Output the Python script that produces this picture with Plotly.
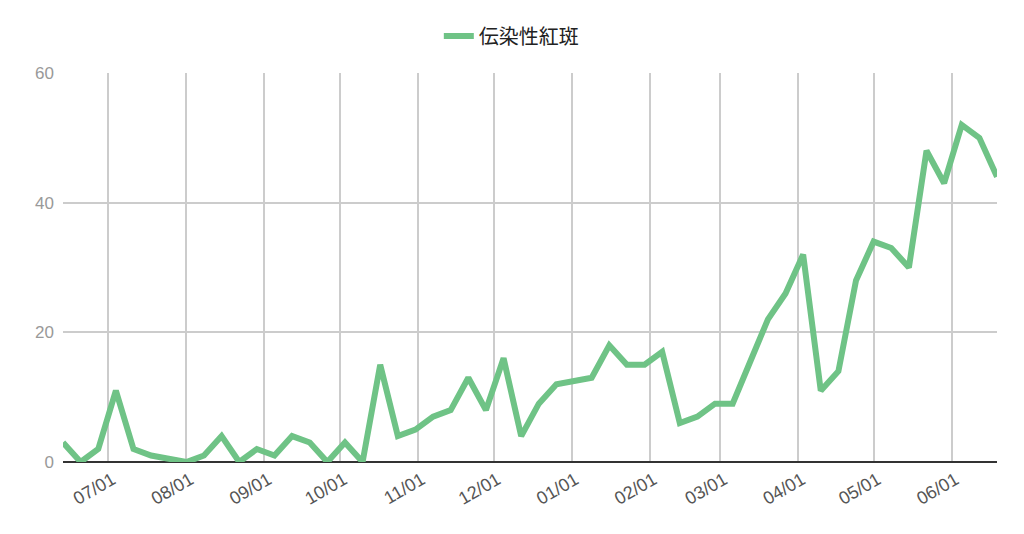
import pandas as pd
import plotly.graph_objects as go

# weekly reports, first week ending 2024-06-13
start_date = "2024-06-13"
end_date = "2025-06-19"
series_name = "伝染性紅斑"
cases = [
    3, 0, 2, 11, 2, 1, 0.5, 0, 1, 4,
    0, 2, 1, 4, 3, 0, 3, 0, 15, 4,
    5, 7, 8, 13, 8, 16, 4, 9, 12, 12.5,
    13, 18, 15, 15, 17, 6, 7, 9, 9, 15.5,
    22, 26, 32, 11, 14, 28, 34, 33, 30, 48,
    43, 52, 50, 44,
]
weeks = pd.date_range(start_date, periods=len(cases), freq="7D")
y_ticks = [0, 20, 40, 60]

fig = go.Figure()

# Kurve
fig.add_trace(go.Scatter(
    x=weeks,
    y=cases,
    mode="lines",
    name=series_name,
    line=dict(color="#6fc386", width=6),
    showlegend=True,
))

# page body has an 8px margin, so the figure is a bit smaller than the window
fig.update_layout(
    width=1016,
    height=526,
    margin=dict(l=55, r=27, t=65, b=72),
    paper_bgcolor="white",
    plot_bgcolor="white",
    font=dict(family="Liberation Sans, Arial, sans-serif"),
    legend=dict(
        orientation="h",
        x=0.48, xanchor="center",
        yref="container",
        y=0.947, yanchor="middle",
        font=dict(family="Noto Sans CJK JP", size=20, color="#222222"),
        itemwidth=30,
    ),
    xaxis=dict(
        type="date",
        range=[start_date, end_date],
        tick0="2024-07-01",
        dtick="M1",
        tickformat="%m/%d",
        tickangle=-30,
        tickfont=dict(size=18, color="#555555"),
        ticklabelshift=4,
        ticklabelstandoff=3,
        automargin=False,
        showgrid=True,
        gridcolor="#cccccc",
        gridwidth=1.5,
        zeroline=False,
        showline=False,
        ticks="",
    ),
    yaxis=dict(
        range=[0, 60],
        tickvals=y_ticks,
        tickfont=dict(size=17, color="#999999"),
        automargin=False,
        showgrid=True,
        gridcolor="#cccccc",
        gridwidth=1.5,
        zeroline=True,
        zerolinecolor="#333333",
        zerolinewidth=1.5,
        showline=False,
        ticks="",
        ticklabelstandoff=8,
    ),
)

fig.write_html("out.html")
